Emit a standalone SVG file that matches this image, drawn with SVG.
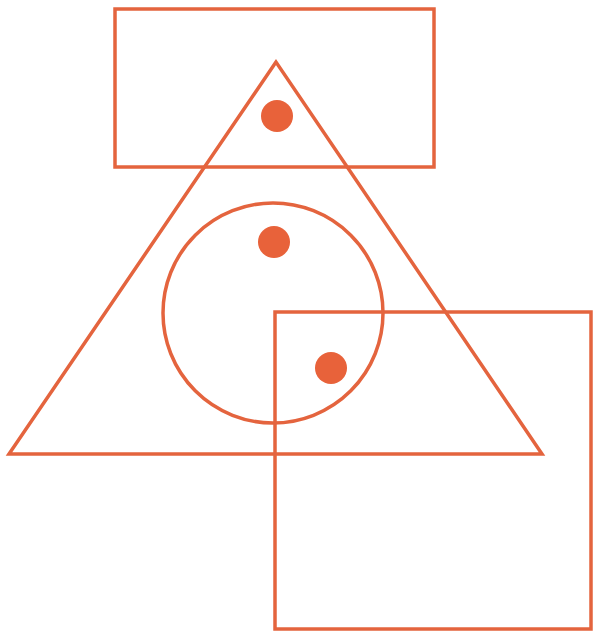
<svg xmlns="http://www.w3.org/2000/svg" width="594" height="638" viewBox="0 0 594 638">
<style>
.s{fill:none;stroke:#e4643e;stroke-width:3.5;stroke-linejoin:miter}
.d{fill:#e8623a}
</style>
<rect width="594" height="638" fill="#ffffff"/>
<g id="top-rect"><rect class="s" x="115" y="9" width="319" height="158"/></g>
<g id="triangle"><polygon class="s" points="276,62 9,454 542,454"/></g>
<g id="circle"><circle class="s" cx="273" cy="313" r="110"/></g>
<g id="square"><rect class="s" x="275" y="312" width="316" height="317"/></g>
<g id="dot1"><circle class="d" cx="277" cy="116" r="16"/></g>
<g id="dot2"><circle class="d" cx="274" cy="242" r="16"/></g>
<g id="dot3"><circle class="d" cx="331" cy="368" r="16"/></g>
</svg>
